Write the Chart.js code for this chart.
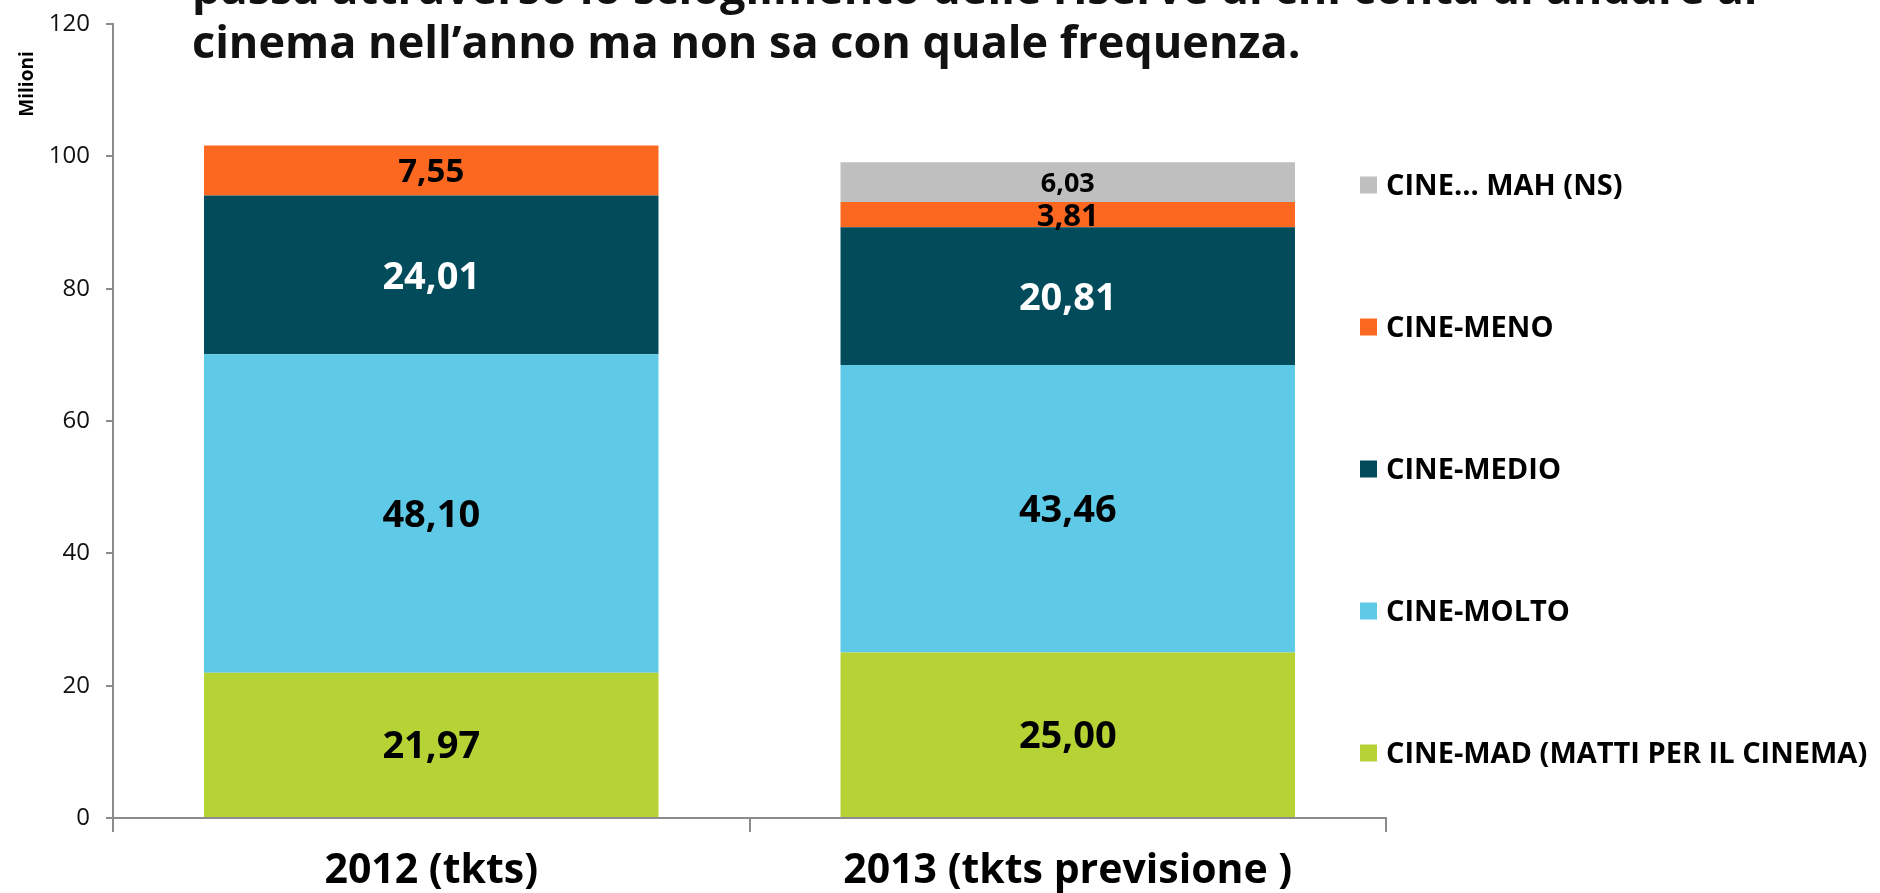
<!DOCTYPE html>
<html>
<head>
<meta charset="utf-8">
<script src="https://cdn.jsdelivr.net/npm/chart.js@4.4.1/dist/chart.umd.min.js"></script>
<style>
  html, body { margin: 0; padding: 0; background: #ffffff; }
  #wrap { width: 1880px; height: 893px; position: relative; overflow: hidden; }
  canvas { display: block; }
</style>
</head>
<body>
<div id="wrap"><canvas id="c" width="1880" height="893"></canvas></div>
<script>
// ---------------- DATA ----------------
const categories = ['2012 (tkts)', '2013 (tkts previsione )'];
const seriesNames = ['CINE-MAD (MATTI PER IL CINEMA)', 'CINE-MOLTO', 'CINE-MEDIO', 'CINE-MENO', 'CINE\u2026 MAH (NS)'];
const cineMad   = [21.97, 25.00];
const cineMolto = [48.10, 43.46];
const cineMedio = [24.01, 20.81];
const cineMeno  = [7.55, 3.81];
const cineMah   = [null, 6.03];
const yTickValues = [0, 20, 40, 60, 80, 100, 120];
const yAxisTitle = 'Milioni';
const titleLines = [
  'passa attraverso lo scioglimento delle riserve di chi conta di andare al',
  'cinema nell\u2019anno ma non sa con quale frequenza.'
];

// ---------------- STYLES ----------------
const seriesColors = ['#b5d334', '#5fcae8', '#014b5b', '#fc6820', '#bfbfbf'];
const labelColors  = ['#000000', '#000000', '#ffffff', '#000000', '#000000'];
const labelSizes   = [[38, 38], [38, 38], [38, 38], [33, 31], [27, 27]];
const FONT = '"Open Sans", "Noto Sans", "DejaVu Sans", sans-serif';
const AXIS_COLOR = '#8c8c8c';

const seriesValues = [cineMad, cineMolto, cineMedio, cineMeno, cineMah];

const datasets = seriesNames.map((name, i) => ({
  label: name,
  data: seriesValues[i],
  backgroundColor: seriesColors[i],
  borderWidth: 0,
  categoryPercentage: 1.0,
  barPercentage: 0.714
}));

// value labels inside segments
const valueLabels = {
  id: 'valueLabels',
  afterDatasetsDraw(chart) {
    const ctx = chart.ctx;
    ctx.save();
    ctx.textAlign = 'center';
    ctx.textBaseline = 'alphabetic';
    chart.data.datasets.forEach((ds, di) => {
      const meta = chart.getDatasetMeta(di);
      if (meta.hidden) return;
      meta.data.forEach((bar, i) => {
        const v = ds.data[i];
        if (v === null || v === undefined) return;
        const p = bar.getProps(['x', 'y', 'base'], true);
        const cy = (p.y + p.base) / 2;
        const size = labelSizes[di][i];
        ctx.font = 'bold ' + size + 'px ' + FONT;
        ctx.fillStyle = labelColors[di];
        ctx.fillText(v.toFixed(2).replace('.', ','), p.x, cy + size * 0.36);
      });
    });
    ctx.restore();
  }
};

// legend, title text and axis unit
const decorations = {
  id: 'decorations',
  afterDraw(chart) {
    const ctx = chart.ctx;
    ctx.save();
    // legend (reverse order: top item is last series)
    const n = chart.data.datasets.length;
    const top = 185, step = 142;
    ctx.font = 'bold 29px ' + FONT;
    ctx.textAlign = 'left';
    ctx.textBaseline = 'alphabetic';
    for (let k = 0; k < n; k++) {
      const di = n - 1 - k;
      const ds = chart.data.datasets[di];
      const cy = top + k * step;
      ctx.fillStyle = ds.backgroundColor;
      ctx.fillRect(1360, cy - 8.5, 17, 17);
      ctx.fillStyle = '#000000';
      ctx.fillText(ds.label, 1386, cy + 10.3);
    }
    // title lines
    ctx.font = 'bold 45px ' + FONT;
    ctx.fillStyle = '#111111';
    ctx.fillText(titleLines[0], 192, 4);
    ctx.fillText(titleLines[1], 192, 58);
    // axis unit
    ctx.translate(28, 84);
    ctx.rotate(-Math.PI / 2);
    ctx.textAlign = 'center';
    ctx.textBaseline = 'middle';
    ctx.font = 'bold 19px ' + FONT;
    ctx.fillStyle = '#000000';
    ctx.fillText(yAxisTitle, 0, 0);
    ctx.restore();
  }
};

new Chart(document.getElementById('c'), {
  type: 'bar',
  data: { labels: categories, datasets: datasets },
  options: {
    responsive: false,
    animation: false,
    devicePixelRatio: 1,
    layout: { padding: { left: 0, right: 494, top: 24, bottom: 0 } },
    plugins: {
      legend: { display: false },
      title: { display: false },
      tooltip: { enabled: false }
    },
    scales: {
      x: {
        stacked: true,
        offset: true,
        afterFit(scale) { scale.height = 75; },
        border: { display: true, color: AXIS_COLOR, width: 2 },
        grid: { offset: true, drawOnChartArea: false, drawTicks: true, tickLength: 14, color: AXIS_COLOR, lineWidth: 2 },
        ticks: { color: '#000000', padding: 15, font: { family: FONT, size: 41, weight: 'bold' } }
      },
      y: {
        stacked: true,
        min: 0,
        max: 120,
        afterFit(scale) { scale.width = 113; scale.paddingTop = 0; scale.paddingBottom = 0; },
        afterBuildTicks(scale) { scale.ticks = yTickValues.map(v => ({ value: v })); },
        border: { display: true, color: AXIS_COLOR, width: 2 },
        grid: { drawOnChartArea: false, drawTicks: true, tickLength: 7, color: AXIS_COLOR, lineWidth: 2 },
        ticks: { color: '#111111', padding: 16, font: { family: FONT, size: 24 } }
      }
    }
  },
  plugins: [valueLabels, decorations]
});
</script>
</body>
</html>
